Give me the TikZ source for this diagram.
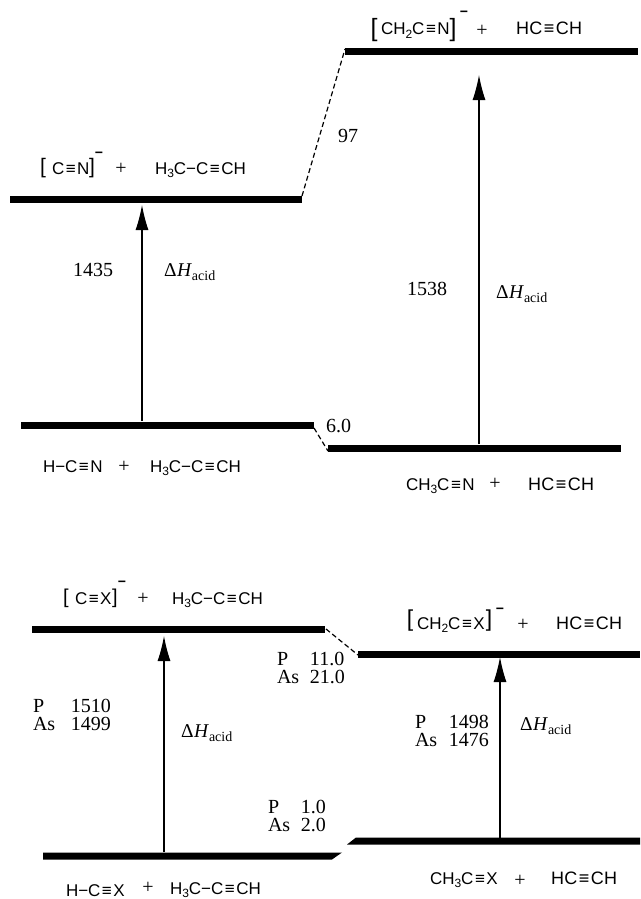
\documentclass[tikz,border=0pt]{standalone}
\usepackage{fontspec}
\setmainfont{Liberation Serif}
\newfontfamily\chemfont{Liberation Sans}
\usetikzlibrary{arrows.meta}
\newcommand{\dHacid}{Δ\kern0.5pt\textit{H}\raisebox{-4pt}{\fontsize{14}{14}\selectfont acid}}
\newcommand{\sbs}[1]{\raisebox{-3pt}{\fontsize{12}{12}\selectfont #1}}
\newcommand{\tb}{\kern1.5pt≡\kern1.5pt}
\newcommand{\twoval}[3]{\makebox[#1][l]{P}#2\\\makebox[#1][l]{As}#3}
\tikzset{
  every node/.style={inner sep=0pt,outer sep=0pt},
  level/.style={line width=7pt,line cap=butt,black},
  slantbar/.style={fill=black,draw=none},
  link/.style={line width=1.2pt,dash pattern=on 5pt off 3pt,black},
  updown/.style={line width=1.1pt,-{Latex[length=25pt,width=13pt]},black},
  chem/.style={font=\chemfont\fontsize{17}{17}\selectfont,anchor=base west},
  chemhc/.style={font=\chemfont\fontsize{18}{17}\selectfont\addfontfeature{LetterSpace=2},anchor=base west},
  pluss/.style={font=\fontsize{20}{20}\selectfont,anchor=center},
  minuss/.style={font=\chemfont\bfseries\fontsize{14}{14}\selectfont,anchor=center},
  brk/.style={font=\chemfont\fontsize{#1}{#1}\selectfont,anchor=center},
  val/.style={font=\fontsize{20}{17.5}\selectfont,align=left,anchor=west},
  dh/.style={font=\fontsize{19.5}{20}\selectfont,anchor=west}
}
\begin{document}
\begin{tikzpicture}[x=1pt,y=-1pt]
\useasboundingbox (0,0) rectangle (640,899);
% levels, upper scheme
\coordinate (a1) at (10,199); \coordinate (a2) at (302,199);
\coordinate (b1) at (345,52); \coordinate (b2) at (638,52);
\coordinate (c1) at (21,425); \coordinate (c2) at (314,425);
\coordinate (d1) at (328,448); \coordinate (d2) at (621,448);
% levels, lower scheme
\coordinate (e1) at (32,629); \coordinate (e2) at (325,629);
\coordinate (f1) at (358,654); \coordinate (f2) at (640,654);
% arrow ends
\coordinate (ua) at (142,421); \coordinate (ub) at (142,205);
\coordinate (va) at (479,444); \coordinate (vb) at (479,75);
\coordinate (wa) at (164,852); \coordinate (wb) at (164,636);
\coordinate (xa) at (500,838); \coordinate (xb) at (500,657);

\foreach \p/\q in {a1/a2,b1/b2,c1/c2,d1/d2,e1/e2,f1/f2}
  \draw[level] (\p) -- (\q);
\fill[slantbar] (43,852.5) -- (342,852.5) -- (332,859.5) -- (43,859.5) -- cycle;
\fill[slantbar] (356,837.5) -- (347,844.5) -- (640,844.5) -- (640,837.5) -- cycle;
\draw[link] (a2) ++(0,-3) -- ([yshift=3pt]b1);
\draw[link] (c2) ++(0,3) -- ([yshift=-3pt]d1);
\draw[link] (e2) ++(1,0) -- ([yshift=-1pt]f1);
\foreach \p/\q in {ua/ub,va/vb,wa/wb,xa/xb}
  \draw[updown] (\p) -- (\q);

% species, upper scheme
\node[brk=21] (s1) at (43,168) {[};
\node[chem] (s2) at (52,174) {C\tb N};
\node[brk=21] (s3) at (92,168) {]};
\node[minuss] (s4) at (99,155) {−};
\node[pluss] (s5) at (121,169) {+};
\node[chem] (s6) at (155,174) {H\sbs{3}C−C\tb CH};

\node[brk=25] (s7) at (374,30) {[};
\node[chem] (s8) at (381,35) {CH\sbs{2}C\tb N};
\node[brk=25] (s9) at (453,30) {]};
\node[minuss] (s10) at (464,14) {−};
\node[pluss] (s11) at (482,31) {+};
\node[chemhc] (s12) at (516,35) {HC\tb CH};

\node[chem] (s13) at (43,472) {H−C\tb N};
\node[pluss] (s14) at (124,467) {+};
\node[chem] (s15) at (150,472) {H\sbs{3}C−C\tb CH};

\node[chem] (s16) at (406,490) {CH\sbs{3}C\tb N};
\node[pluss] (s17) at (495,484) {+};
\node[chemhc] (s18) at (528,490) {HC\tb CH};

% species, lower scheme
\node[brk=20] (s19) at (66,598) {[};
\node[chem] (s20) at (75,604) {C\tb X};
\node[brk=20] (s21) at (115,598) {]};
\node[minuss] (s22) at (122,584) {−};
\node[pluss] (s23) at (143,599) {+};
\node[chem] (s24) at (172,604) {H\sbs{3}C−C\tb CH};

\node[brk=23] (s25) at (410,621) {[};
\node[chem] (s26) at (417,629) {CH\sbs{2}C\tb X};
\node[brk=23] (s27) at (489,621) {]};
\node[minuss] (s28) at (500,611) {−};
\node[pluss] (s29) at (523,625) {+};
\node[chemhc] (s30) at (556,629) {HC\tb CH};

\node[chem] (s31) at (66,896) {H−C\tb X};
\node[pluss] (s32) at (148,888) {+};
\node[chem] (s33) at (170,894) {H\sbs{3}C−C\tb CH};

\node[chem] (s34) at (430,884) {CH\sbs{3}C\tb X};
\node[pluss] (s35) at (520,881) {+};
\node[chemhc] (s36) at (551,884) {HC\tb CH};

% values
\node[val] (n1) at (73,270) {1435};
\node[val] (n2) at (407,289) {1538};
\node[val] (n3) at (338,136) {97};
\node[val] (n4) at (326,426) {6.0};
\node[val] (n5) at (33,715) {\twoval{38pt}{1510}{1499}};
\node[val] (n6) at (277,668) {\twoval{33pt}{11.0}{21.0}};
\node[val] (n7) at (415,731) {\twoval{34pt}{1498}{1476}};
\node[val] (n8) at (268,816) {\twoval{33pt}{1.0}{2.0}};
% enthalpy labels
\node[dh] (h1l) at (164,272) {\dHacid};
\node[dh] (h2l) at (496,294) {\dHacid};
\node[dh] (h3l) at (181,733) {\dHacid};
\node[dh] (h4l) at (520,726) {\dHacid};
\end{tikzpicture}
\end{document}
